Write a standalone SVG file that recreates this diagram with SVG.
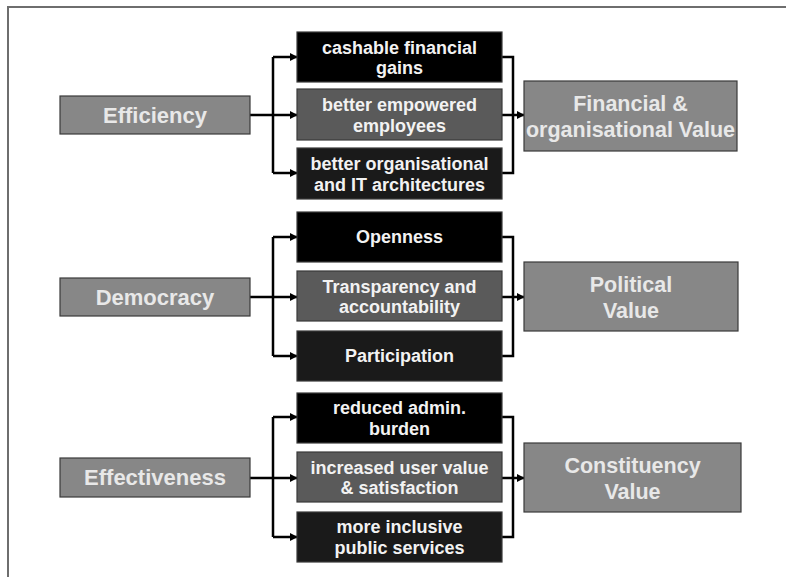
<svg xmlns="http://www.w3.org/2000/svg" width="786" height="577" viewBox="0 0 786 577">
<style>
.frame{fill:none;stroke:#6e6e6e;stroke-width:2}
.outer{fill:#878787;stroke:#3a3a3a;stroke-width:1.2}
.m1{fill:#000;stroke:#3a3a3a;stroke-width:1.2}
.m2{fill:#5a5a5a;stroke:#3a3a3a;stroke-width:1.2}
.m3{fill:#1a1a1a;stroke:#3a3a3a;stroke-width:1.2}
text{font-family:"Liberation Sans",Arial,sans-serif;font-weight:bold;text-anchor:middle}
.lt{font-size:22px;fill:#e8e8e8}
.rt{font-size:21.5px;fill:#e8e8e8}
.mt{font-size:18px;fill:#f2f2f2}
.c{fill:none;stroke:#000;stroke-width:2.5}
.a{fill:none;stroke:#000;stroke-width:2.5;marker-end:url(#ah)}
</style>
<defs>
<marker id="ah" viewBox="0 0 10 10" refX="9" refY="5" markerWidth="3.2" markerHeight="3.2" orient="auto" markerUnits="strokeWidth">
<path d="M0,0 L10,5 L0,10 z" fill="#000"/>
</marker>
</defs>
<path class="frame" d="M8,577 V7 H786"/>

<g id="connectors">
<path class="c" d="M250,115 H273 M273,57 V173"/>
<path class="a" d="M273,115 H297"/>
<path class="a" d="M273,57 H297"/>
<path class="a" d="M273,173 H297"/>
<path class="c" d="M502,57 H513 V173 H502"/>
<path class="a" d="M502,115 H524"/>

<path class="c" d="M250,297 H273 M273,237 V356"/>
<path class="a" d="M273,297 H297"/>
<path class="a" d="M273,237 H297"/>
<path class="a" d="M273,356 H297"/>
<path class="c" d="M502,237 H513 V356 H502"/>
<path class="a" d="M502,297 H524"/>

<path class="c" d="M250,478 H273 M273,417 V537"/>
<path class="a" d="M273,478 H297"/>
<path class="a" d="M273,417 H297"/>
<path class="a" d="M273,537 H297"/>
<path class="c" d="M502,417 H513 V537 H502"/>
<path class="a" d="M502,478 H524"/>
</g>

<g id="efficiency"><rect class="outer" x="60" y="96" width="190" height="38"/><text class="lt" x="155" y="123">Efficiency</text></g>
<g id="cashable"><rect class="m1" x="297" y="32" width="205" height="50"/><text class="mt" x="399.5" y="54">cashable financial</text><text class="mt" x="399.5" y="74">gains</text></g>
<g id="empowered"><rect class="m2" x="297" y="89" width="205" height="51"/><text class="mt" x="399.5" y="111">better empowered</text><text class="mt" x="399.5" y="132">employees</text></g>
<g id="architectures"><rect class="m3" x="297" y="148" width="205" height="51"/><text class="mt" x="399.5" y="170">better organisational</text><text class="mt" x="399.5" y="191">and IT architectures</text></g>
<g id="financial"><rect class="outer" x="524" y="81" width="213" height="70"/><text class="rt" x="630.5" y="111">Financial &amp;</text><text class="rt" x="630.5" y="137">organisational Value</text></g>

<g id="democracy"><rect class="outer" x="60" y="278" width="190" height="38"/><text class="lt" x="155" y="305">Democracy</text></g>
<g id="openness"><rect class="m1" x="297" y="212" width="205" height="50"/><text class="mt" x="399.5" y="243">Openness</text></g>
<g id="transparency"><rect class="m2" x="297" y="271" width="205" height="50"/><text class="mt" x="399.5" y="293">Transparency and</text><text class="mt" x="399.5" y="313">accountability</text></g>
<g id="participation"><rect class="m3" x="297" y="331" width="205" height="50"/><text class="mt" x="399.5" y="362">Participation</text></g>
<g id="political"><rect class="outer" x="524" y="262" width="214" height="69"/><text class="rt" x="631" y="292">Political</text><text class="rt" x="631" y="318">Value</text></g>

<g id="effectiveness"><rect class="outer" x="60" y="458" width="190" height="39"/><text class="lt" x="155" y="485">Effectiveness</text></g>
<g id="reduced"><rect class="m1" x="297" y="393" width="205" height="50"/><text class="mt" x="399.5" y="414">reduced admin.</text><text class="mt" x="399.5" y="435">burden</text></g>
<g id="increased"><rect class="m2" x="297" y="452" width="205" height="50"/><text class="mt" x="399.5" y="474">increased user value</text><text class="mt" x="399.5" y="494">&amp; satisfaction</text></g>
<g id="inclusive"><rect class="m3" x="297" y="512" width="205" height="50"/><text class="mt" x="399.5" y="533">more inclusive</text><text class="mt" x="399.5" y="554">public services</text></g>
<g id="constituency"><rect class="outer" x="524" y="443" width="217" height="69"/><text class="rt" x="632.5" y="473">Constituency</text><text class="rt" x="632.5" y="499">Value</text></g>
</svg>
